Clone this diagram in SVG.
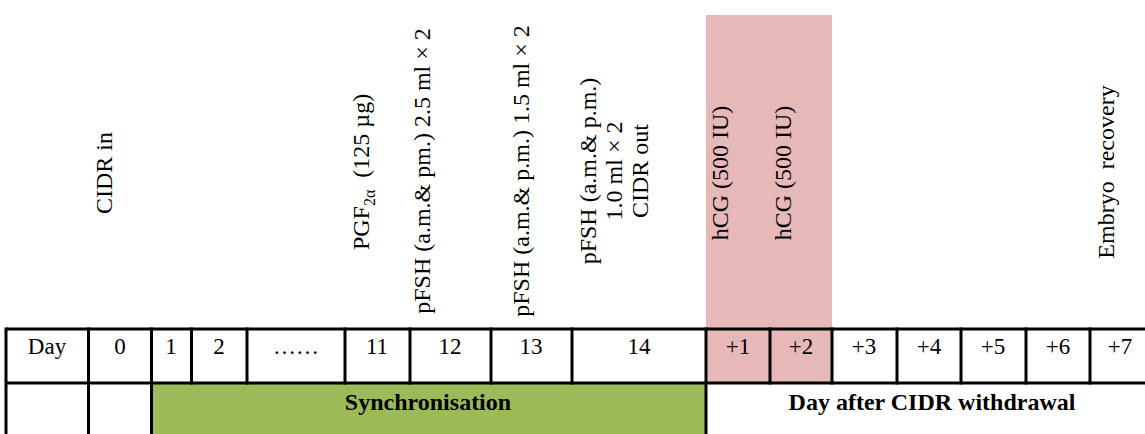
<svg xmlns="http://www.w3.org/2000/svg" width="1145" height="434" viewBox="0 0 1145 434">
<style>
text{font-family:"Liberation Serif","Times New Roman",serif;fill:#000}
.v{font-size:24px}
.c{font-size:23px;text-anchor:middle}
.b{font-size:24px;font-weight:bold;text-anchor:middle}
.ln{stroke:#000;stroke-width:3;fill:none}
</style>
<rect width="1145" height="434" fill="#fff"/>
<g id="fills">
<rect x="706" y="15" width="126" height="368" fill="#E6B8B7"/>
<rect x="151" y="383" width="555" height="51" fill="#9BBB59"/>
</g>
<g id="labels" class="v" text-anchor="middle">
<text transform="translate(112,173) rotate(-90)">CIDR in</text>
<text transform="translate(369,172) rotate(-90)">PGF<tspan font-size="16" dy="6">2α</tspan><tspan dy="-6" dx="12">(125 µg)</tspan></text>
<text transform="translate(430,171) rotate(-90)">pFSH (a.m.&amp; pm.) 2.5 ml × 2</text>
<text transform="translate(529,171) rotate(-90)">pFSH (a.m.&amp; p.m.) 1.5 ml × 2</text>
<text transform="translate(596,171) rotate(-90)">pFSH (a.m.&amp; p.m.)</text>
<text transform="translate(622,171) rotate(-90)">1.0 ml × 2</text>
<text transform="translate(648,171) rotate(-90)">CIDR out</text>
<text transform="translate(728,173) rotate(-90)">hCG (500 IU)</text>
<text transform="translate(791,173) rotate(-90)">hCG (500 IU)</text>
<text transform="translate(1114,172) rotate(-90)">Embryo<tspan dx="12">recovery</tspan></text>
</g>
<g id="table-lines" class="ln">
<line x1="6" y1="329" x2="1145" y2="329"/>
<line x1="6" y1="383" x2="1145" y2="383"/>
<line x1="6" y1="327.5" x2="6" y2="434"/>
<line x1="88.5" y1="327.5" x2="88.5" y2="434"/>
<line x1="151.5" y1="327.5" x2="151.5" y2="434"/>
<line x1="706" y1="327.5" x2="706" y2="434"/>
<line x1="191.5" y1="327.5" x2="191.5" y2="384.5"/>
<line x1="247" y1="327.5" x2="247" y2="384.5"/>
<line x1="345" y1="327.5" x2="345" y2="384.5"/>
<line x1="410" y1="327.5" x2="410" y2="384.5"/>
<line x1="491" y1="327.5" x2="491" y2="384.5"/>
<line x1="572" y1="327.5" x2="572" y2="384.5"/>
<line x1="770" y1="327.5" x2="770" y2="384.5"/>
<line x1="832" y1="327.5" x2="832" y2="384.5"/>
<line x1="897" y1="327.5" x2="897" y2="384.5"/>
<line x1="961" y1="327.5" x2="961" y2="384.5"/>
<line x1="1026" y1="327.5" x2="1026" y2="384.5"/>
<line x1="1090" y1="327.5" x2="1090" y2="384.5"/>
</g>
<g id="day-row" class="c">
<text x="47" y="354">Day</text>
<text x="120" y="354">0</text>
<text x="171" y="354">1</text>
<text x="219" y="354">2</text>
<text x="296" y="354">……</text>
<text x="377" y="354">11</text>
<text x="450" y="354">12</text>
<text x="531" y="354">13</text>
<text x="639" y="354">14</text>
<text x="738" y="354">+1</text>
<text x="801" y="354">+2</text>
<text x="864" y="354">+3</text>
<text x="929" y="354">+4</text>
<text x="993" y="354">+5</text>
<text x="1058" y="354">+6</text>
<text x="1120" y="354">+7</text>
</g>
<g id="phase-row" class="b">
<text x="428" y="410">Synchronisation</text>
<text x="932" y="410">Day after CIDR withdrawal</text>
</g>
</svg>
